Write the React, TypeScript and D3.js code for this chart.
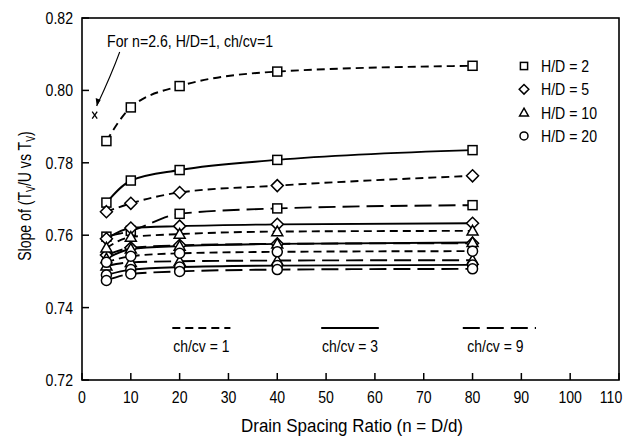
import React from 'react';
import * as d3 from 'd3';

// ---- data ----
const drainSpacing = [5, 10, 20, 40, 80];
const hdRatios = [2, 5, 10, 20];
const chcvRatios = [1, 3, 9];

// slope values, one array per (H/D, ch/cv) pair
const hd2_ch1 = [0.786, 0.7953, 0.8012, 0.8052, 0.8068];
const hd2_ch3 = [0.769, 0.7751, 0.778, 0.7808, 0.7835];
const hd2_ch9 = [0.7596, 0.7612, 0.7659, 0.7674, 0.7683];
const hd5_ch1 = [0.7665, 0.7688, 0.7718, 0.7737, 0.7764];
const hd5_ch3 = [0.759, 0.762, 0.7625, 0.763, 0.7633];
const hd5_ch9 = [0.7545, 0.7565, 0.7572, 0.7576, 0.7578];
const hd10_ch1 = [0.7565, 0.7595, 0.7603, 0.761, 0.7612];
const hd10_ch3 = [0.7535, 0.7562, 0.757, 0.7576, 0.758];
const hd10_ch9 = [0.7515, 0.7525, 0.7528, 0.753, 0.7531];
const hd20_ch1 = [0.7525, 0.7542, 0.755, 0.7554, 0.7556];
const hd20_ch3 = [0.749, 0.7505, 0.7512, 0.7516, 0.7518];
const hd20_ch9 = [0.7475, 0.7493, 0.75, 0.7505, 0.7507];

const singlePointN = 2.6;
const singlePointSlope = 0.7932;

const xTicks = [0, 10, 20, 30, 40, 50, 60, 70, 80, 90, 100, 110];
const yTicks = [0.72, 0.74, 0.76, 0.78, 0.8, 0.82];

const seriesTable = [
  { hd: 2, ch: 1, values: hd2_ch1 },
  { hd: 2, ch: 3, values: hd2_ch3 },
  { hd: 2, ch: 9, values: hd2_ch9 },
  { hd: 5, ch: 1, values: hd5_ch1 },
  { hd: 5, ch: 3, values: hd5_ch3 },
  { hd: 5, ch: 9, values: hd5_ch9 },
  { hd: 10, ch: 1, values: hd10_ch1 },
  { hd: 10, ch: 3, values: hd10_ch3 },
  { hd: 10, ch: 9, values: hd10_ch9 },
  { hd: 20, ch: 1, values: hd20_ch1 },
  { hd: 20, ch: 3, values: hd20_ch3 },
  { hd: 20, ch: 9, values: hd20_ch9 },
];

const chLegendRanges: Record<number, [number, number]> = { 1: [18.5, 30.4], 3: [49, 60.8], 9: [78, 93] };

// ---- styles ----
const W = 630;
const H = 446;
const M = { left: 82, right: 619, top: 18, bottom: 380 };
const FONT = "'Liberation Sans', Arial, sans-serif";
const dashFor: Record<number, string | undefined> = { 1: '8,5', 3: undefined, 9: '17,7' };
const markerFor: Record<number, string> = { 2: 'square', 5: 'diamond', 10: 'triangle', 20: 'circle' };

function CText({ x, y, sx = 0.84, fs = 16, anchor = 'start', children }: any) {
  return (
    <text transform={`translate(${x},${y}) scale(${sx},1)`} fontSize={fs} textAnchor={anchor}>
      {children}
    </text>
  );
}

function Marker({ type, cx, cy, s = 1 }: { type: string; cx: number; cy: number; s?: number }) {
  const common = { fill: 'white', stroke: 'black', strokeWidth: 1.5 };
  if (type === 'square') {
    const h = 4.5 * s;
    return <rect x={cx - h} y={cy - h} width={2 * h} height={2 * h} {...common} />;
  }
  if (type === 'diamond') {
    const r = 6 * s;
    return <polygon points={`${cx},${cy - r} ${cx + r},${cy} ${cx},${cy + r} ${cx - r},${cy}`} {...common} />;
  }
  if (type === 'triangle') {
    const r = 5.5 * s;
    return <polygon points={`${cx},${cy - r} ${cx + r},${cy + r * 0.75} ${cx - r},${cy + r * 0.75}`} {...common} />;
  }
  return <circle cx={cx} cy={cy} r={5 * s} {...common} />;
}

export default function App() {
  const x = d3.scaleLinear().domain([0, 110]).range([M.left, M.right]);
  const y = d3.scaleLinear().domain([0.72, 0.82]).range([M.bottom, M.top]);
  const line = d3
    .line<number>()
    .x((_, i) => x(drainSpacing[i]))
    .y((d) => y(d))
    .curve(d3.curveMonotoneX);

  const px = x(singlePointN);
  const py = y(singlePointSlope);
  const arrowStart = { x: px + 25, y: py - 63 };
  const arrowEnd = { x: px + 2, y: py - 9 };

  return (
    <svg width={W} height={H} style={{ position: 'absolute', left: 0, top: 0, background: 'white' }} fontFamily={FONT}>
      <rect x={0} y={0} width={W} height={H} fill="white" />
      {/* series lines */}
      {seriesTable.map((s) => (
        <path
          key={`l-${s.hd}-${s.ch}`}
          d={line(s.values) || ''}
          fill="none"
          stroke="black"
          strokeWidth={1.9}
          strokeDasharray={dashFor[s.ch]}
        />
      ))}
      {/* markers */}
      {seriesTable.map((s) =>
        s.values.map((v, i) => (
          <Marker key={`m-${s.hd}-${s.ch}-${i}`} type={markerFor[s.hd]} cx={x(drainSpacing[i])} cy={y(v)} />
        ))
      )}
      {/* single point */}
      <g stroke="black" strokeWidth={1.3}>
        <line x1={px - 2.5} y1={py - 3.5} x2={px + 2.5} y2={py + 3.5} />
        <line x1={px + 2.5} y1={py - 3.5} x2={px - 2.5} y2={py + 3.5} />
      </g>
      <path
        d={`M${arrowStart.x},${arrowStart.y} Q${arrowStart.x - 8},${(arrowStart.y + arrowEnd.y) / 2 - 5} ${arrowEnd.x},${arrowEnd.y}`}
        fill="none"
        stroke="black"
        strokeWidth={1.1}
      />
      <polygon
        points={`${arrowEnd.x},${arrowEnd.y} ${arrowEnd.x - 1},${arrowEnd.y - 8} ${arrowEnd.x + 4},${arrowEnd.y - 6}`}
        fill="black"
      />
      <text x={107} y={47} fontSize={17} textLength={166} lengthAdjust="spacingAndGlyphs">
        For n=2.6, H/D=1, ch/cv=1
      </text>

      {/* frame */}
      <rect x={M.left} y={M.top} width={M.right - M.left} height={M.bottom - M.top} fill="none" stroke="black" strokeWidth={1.6} />
      {/* ticks */}
      {xTicks.map((t) => (
        <g key={`xt-${t}`}>
          <line x1={x(t)} x2={x(t)} y1={M.bottom} y2={M.bottom - 7} stroke="black" strokeWidth={1.5} />
          <CText x={t === 110 ? x(t) - 8 : x(t)} y={403} fs={16} sx={0.88} anchor="middle">
            {t}
          </CText>
        </g>
      ))}
      {yTicks.map((t) => (
        <g key={`yt-${t}`}>
          <line x1={M.left} x2={M.left + 7} y1={y(t)} y2={y(t)} stroke="black" strokeWidth={1.5} />
          <CText x={73} y={y(t) + 6} fs={16} sx={0.88} anchor="end">
            {t.toFixed(2)}
          </CText>
        </g>
      ))}
      {/* axis titles */}
      <text x={352} y={432} fontSize={19} textAnchor="middle" textLength={222} lengthAdjust="spacingAndGlyphs">
        Drain Spacing Ratio (n = D/d)
      </text>
      <text transform="translate(31,196) rotate(-90) scale(0.74,1)" fontSize={19} textAnchor="middle">
        Slope of (T
        <tspan fontSize={12} dy={4}>V</tspan>
        <tspan dy={-4}>/U vs T</tspan>
        <tspan fontSize={12} dy={4}>V</tspan>
        <tspan dy={-4}>)</tspan>
      </text>

      {/* H/D legend */}
      {hdRatios.map((hd, i) => (
        <g key={`lg-${hd}`}>
          <Marker type={markerFor[hd]} cx={524} cy={66 + i * 23.3} s={0.8} />
          <CText x={541} y={66 + i * 23.3 + 6} fs={17} sx={0.83}>
            H/D = {hd}
          </CText>
        </g>
      ))}

      {/* ch/cv legend */}
      {chcvRatios.map((ch) => {
        const [a, b] = chLegendRanges[ch];
        return (
          <g key={`cl-${ch}`}>
            <line x1={x(a)} x2={x(b)} y1={328} y2={328} stroke="black" strokeWidth={1.8} strokeDasharray={dashFor[ch]} />
            <CText x={(x(a) + x(b)) / 2 + (ch === 9 ? -4 : 0)} y={352} fs={17} sx={0.82} anchor="middle">
              ch/cv = {ch}
            </CText>
          </g>
        );
      })}
    </svg>
  );
}
